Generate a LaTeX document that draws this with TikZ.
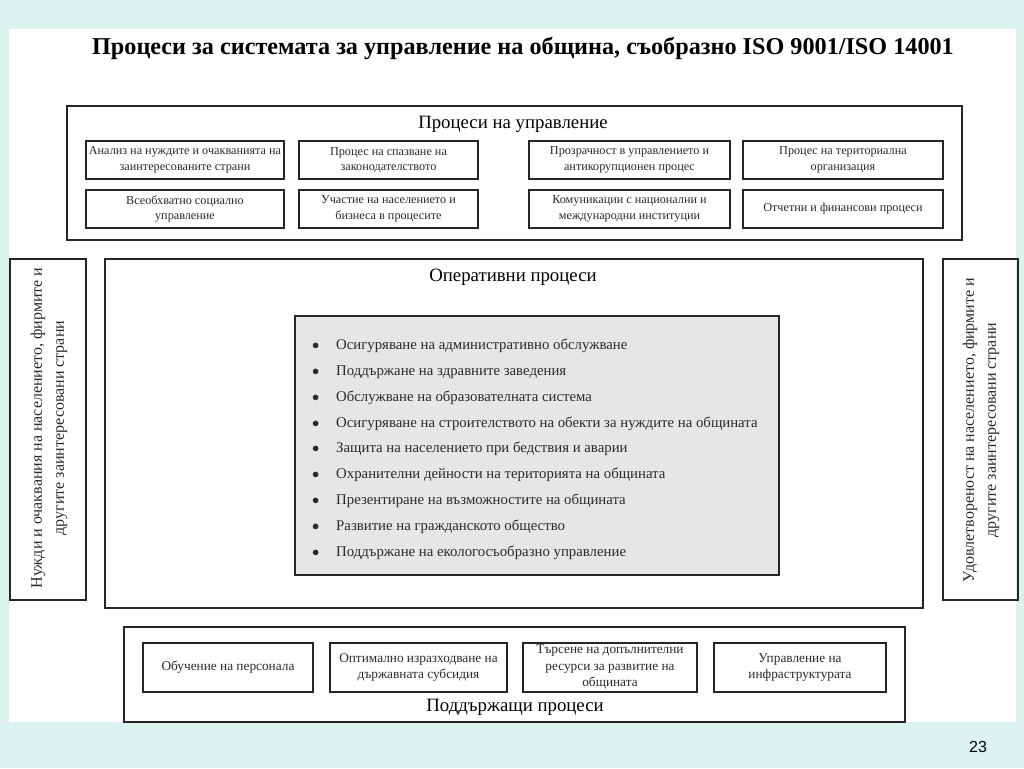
\documentclass[tikz,border=0pt]{standalone}
\usepackage{fontspec}
\setmainfont{Liberation Serif}
\setsansfont{Liberation Sans}
\definecolor{slidebg}{HTML}{DAF3EE}
\definecolor{listgray}{HTML}{E6E6E6}
\definecolor{boxtext}{HTML}{2A2A2A}
\begin{document}
\begin{tikzpicture}[
  frame/.style={draw=black!85, line width=1.2pt},
  procbox/.style={draw=black!85, line width=1.5pt, align=center, text=boxtext,
    inner sep=0pt, font=\fontsize{12.2}{15.5}\selectfont},
  suppbox/.style={procbox, font=\fontsize{13.3}{16.5}\selectfont,
    minimum height=49pt},
  head/.style={font=\fontsize{18.8}{21}\selectfont, inner sep=0pt},
  side/.style={rotate=90, align=center, text=boxtext, inner sep=0pt,
    font=\fontsize{16}{22}\selectfont},
  item/.style={anchor=west, text=boxtext, inner sep=0pt,
    font=\fontsize{14.8}{16}\selectfont}
]
\useasboundingbox (0pt,0pt) rectangle (1024pt,-768pt);
\fill[slidebg] (0pt,0pt) rectangle (1024pt,-768pt);
\fill[white] (9pt,-29pt) rectangle (1016pt,-722pt);

\node[font=\bfseries\fontsize{24.2}{28}\selectfont, inner sep=0pt] (title) at (523pt,-48pt)
  {Процеси за системата за управление на община, съобразно ISO 9001/ISO 14001};

% management processes
\draw[frame] (67pt,-106pt) rectangle (962pt,-240pt);
\node[head] (uprhead) at (513pt,-124pt) {Процеси на управление};
\node[procbox, minimum width=198pt, minimum height=38pt] (upr1) at (185pt,-160pt)
  {Анализ на нуждите и очакванията на\\заинтересованите страни};
\node[procbox, minimum width=179pt, minimum height=38pt] (upr2) at (388.5pt,-160pt)
  {Процес на спазване на\\законодателството};
\node[procbox, minimum width=201pt, minimum height=38pt] (upr3) at (629.5pt,-160pt)
  {Прозрачност в управлението и\\антикорупционен процес};
\node[procbox, minimum width=200pt, minimum height=38pt] (upr4) at (843pt,-160pt)
  {Процес на териториална\\организация};
\node[procbox, minimum width=198pt, minimum height=38pt] (upr5) at (185pt,-209pt)
  {Всеобхватно социално\\управление};
\node[procbox, minimum width=179pt, minimum height=38pt] (upr6) at (388.5pt,-209pt)
  {Участие на населението и\\бизнеса в процесите};
\node[procbox, minimum width=201pt, minimum height=38pt] (upr7) at (629.5pt,-209pt)
  {Комуникации с национални и\\международни институции};
\node[procbox, minimum width=200pt, minimum height=38pt] (upr8) at (843pt,-209pt)
  {Отчетни и финансови процеси};

% side boxes
\draw[frame] (10pt,-259pt) rectangle (86pt,-600pt);
\node[side] (needs) at (49pt,-428pt)
  {Нужди и очаквания на населението, фирмите и\\другите заинтересовани страни};
\draw[frame] (943pt,-259pt) rectangle (1018pt,-600pt);
\node[side] (satisf) at (981pt,-430pt)
  {Удовлетвореност на населението, фирмите и\\другите заинтересовани страни};

% operational processes
\draw[frame] (105pt,-259pt) rectangle (923pt,-608pt);
\node[head] (ophead) at (513pt,-277pt) {Оперативни процеси};
\draw[frame, fill=listgray] (295pt,-316pt) rectangle (779pt,-575pt);
\node[item] (op1) at (312pt,-346pt) {\makebox[24pt][l]{$\bullet$}Осигуряване на административно обслужване};
\node[item] (op2) at (312pt,-371.8pt) {\makebox[24pt][l]{$\bullet$}Поддържане на здравните заведения};
\node[item] (op3) at (312pt,-397.6pt) {\makebox[24pt][l]{$\bullet$}Обслужване на образователната система};
\node[item] (op4) at (312pt,-423.4pt) {\makebox[24pt][l]{$\bullet$}Осигуряване на строителството на обекти за нуждите на общината};
\node[item] (op5) at (312pt,-449.2pt) {\makebox[24pt][l]{$\bullet$}Защита на населението при бедствия и аварии};
\node[item] (op6) at (312pt,-475pt) {\makebox[24pt][l]{$\bullet$}Охранителни дейности на територията на общината};
\node[item] (op7) at (312pt,-500.8pt) {\makebox[24pt][l]{$\bullet$}Презентиране на възможностите на общината};
\node[item] (op8) at (312pt,-526.6pt) {\makebox[24pt][l]{$\bullet$}Развитие на гражданското общество};
\node[item] (op9) at (312pt,-552.4pt) {\makebox[24pt][l]{$\bullet$}Поддържане на екологосъобразно управление};

% supporting processes
\draw[frame] (124pt,-627pt) rectangle (905pt,-722pt);
\node[suppbox, minimum width=170pt] (sup1) at (228pt,-667.5pt)
  {Обучение на персонала};
\node[suppbox, minimum width=177pt] (sup2) at (418.5pt,-667.5pt)
  {Оптимално изразходване на\\държавната субсидия};
\node[suppbox, minimum width=174pt] (sup3) at (610pt,-667.5pt)
  {Търсене на допълнителни\\ресурси за развитие на\\общината};
\node[suppbox, minimum width=172pt] (sup4) at (800pt,-667.5pt)
  {Управление на\\инфраструктурата};
\node[head] (suphead) at (515pt,-707pt) {Поддържащи процеси};

\node[font=\sffamily\fontsize{16}{18}\selectfont, inner sep=0pt] (pagenum) at (978pt,-747pt) {23};
\end{tikzpicture}
\end{document}
